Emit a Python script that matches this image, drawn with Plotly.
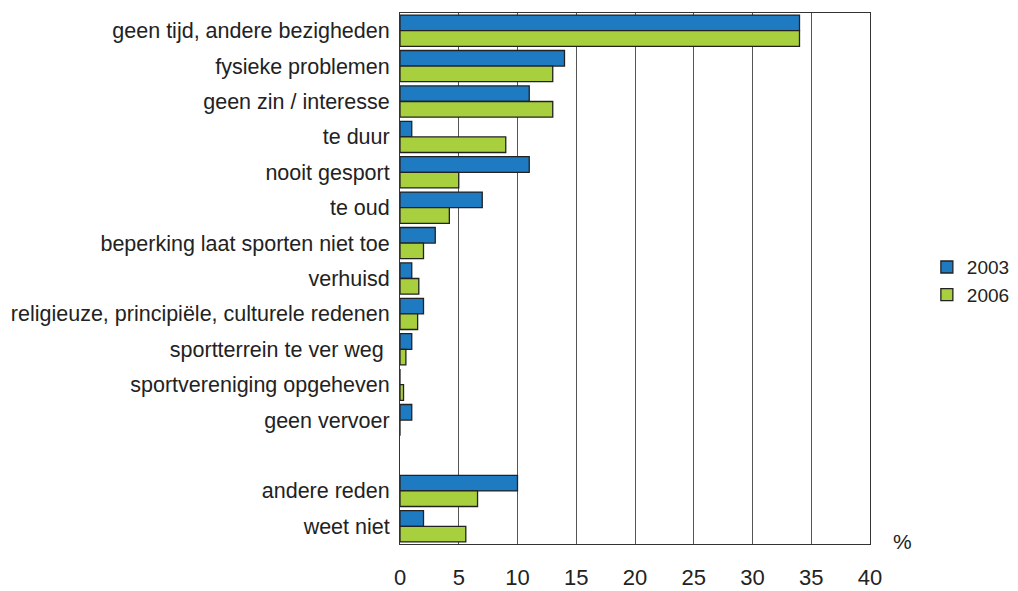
import plotly.graph_objects as go

categories = [
    "geen tijd, andere bezigheden",
    "fysieke problemen",
    "geen zin / interesse",
    "te duur",
    "nooit gesport",
    "te oud",
    "beperking laat sporten niet toe",
    "verhuisd",
    "religieuze, principiële, culturele redenen",
    "sportterrein te ver weg ",
    "sportvereniging opgeheven",
    "geen vervoer",
    " ",
    "andere reden",
    "weet niet",
]
values_2003 = [34, 14, 11, 1, 11, 7, 3, 1, 2, 1, 0, 1, None, 10, 2]
values_2006 = [34, 13, 13, 9, 5, 4.2, 2, 1.6, 1.5, 0.5, 0.3, 0, None, 6.6, 5.6]
series_names = ["2003", "2006"]
tick_values = [0, 5, 10, 15, 20, 25, 30, 35, 40]

colors = ["#1f7bc1", "#a8cf3e"]

fig = go.Figure()
for name, vals, col in zip(series_names, [values_2003, values_2006], colors):
    fig.add_trace(go.Bar(
        y=categories, x=vals, name=name, orientation="h",
        marker=dict(color=col, line=dict(color="#222222", width=1.3)),
    ))

fig.update_layout(
    width=1010, height=583,
    margin=dict(l=392, r=148, t=5, b=47, autoexpand=False),
    paper_bgcolor="white", plot_bgcolor="white",
    barmode="group", bargap=0.12, bargroupgap=0,
    font=dict(family="Liberation Sans, Arial, sans-serif", color="#222222"),
    legend=dict(x=1.121, y=0.495, xanchor="left", yanchor="middle",
                font=dict(size=19), traceorder="normal",
                itemwidth=30, tracegroupgap=2, bgcolor="rgba(0,0,0,0)"),
    showlegend=True,
    xaxis=dict(range=[0, 40], tickvals=tick_values, showgrid=True,
               gridcolor="#555555", gridwidth=1, zeroline=False,
               showline=True, linecolor="#333333", linewidth=1, mirror=True,
               tickfont=dict(size=22), ticks="", ticklabelstandoff=14),
    yaxis=dict(autorange="reversed", type="category", showgrid=False,
               showline=True, linecolor="#333333", linewidth=1, mirror=True,
               tickfont=dict(size=21.5), ticks="", ticklabelstandoff=5),
    annotations=[dict(text="%", x=1.045, y=-0.02, xref="paper", yref="paper",
                      xanchor="left", yanchor="bottom", showarrow=False,
                      font=dict(size=21))],
)

fig.write_html("out.html")
